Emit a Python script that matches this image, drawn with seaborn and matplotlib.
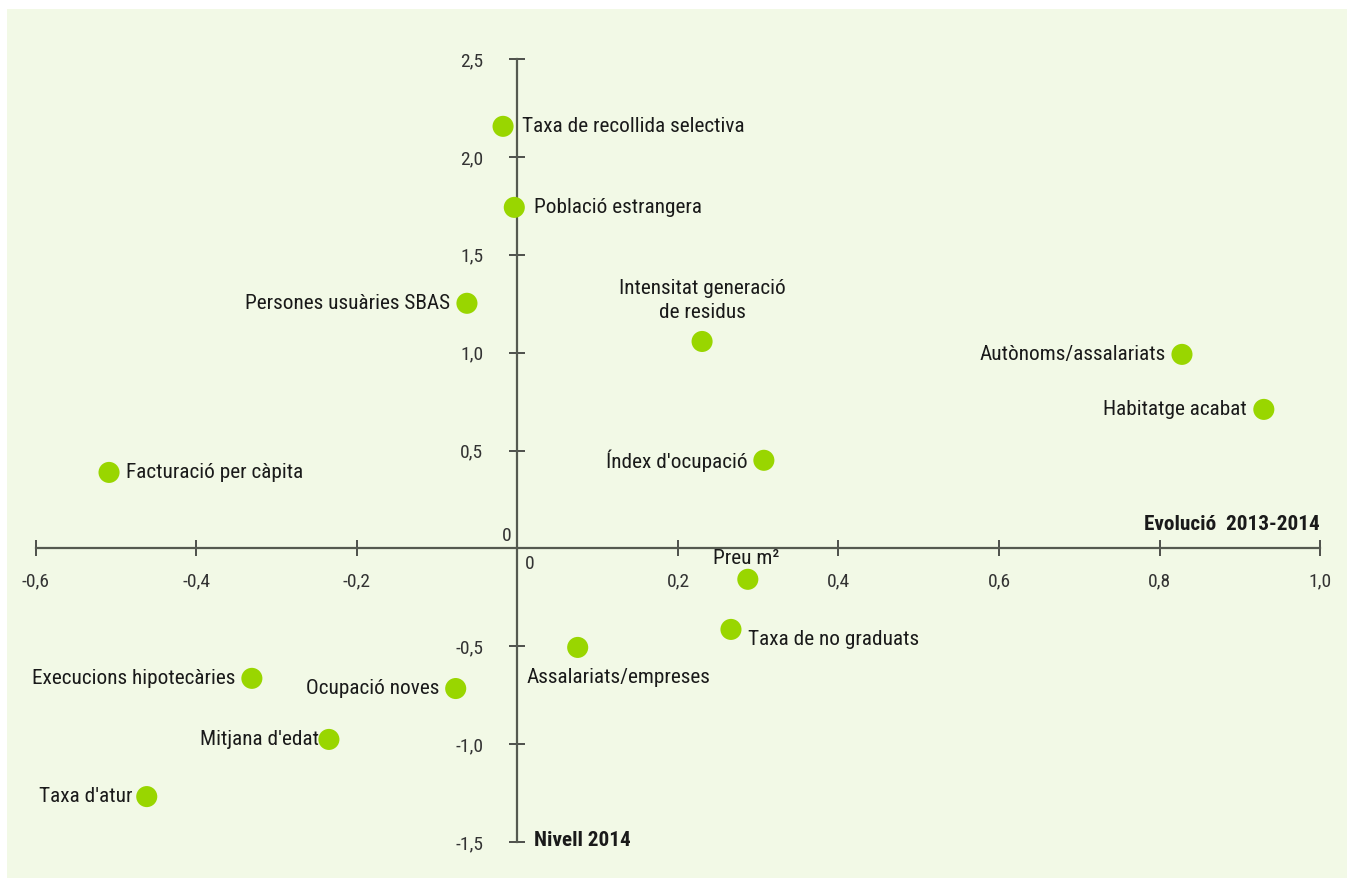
import numpy as np
import pandas as pd
import matplotlib
matplotlib.use('Agg')
import matplotlib.pyplot as plt
import seaborn as sns
from matplotlib import font_manager
from matplotlib.patches import Rectangle

# data
labels = ['Taxa de recollida selectiva', 'Població estrangera', 'Persones usuàries SBAS',
          'Intensitat generació\nde residus', 'Autònoms/assalariats', 'Habitatge acabat',
          "Índex d'ocupació", 'Facturació per càpita', 'Preu m²', 'Taxa de no graduats',
          'Assalariats/empreses', 'Execucions hipotecàries', 'Ocupació noves',
          "Mitjana d'edat", "Taxa d'atur"]
evolucio = [-0.018, -0.004, -0.063, 0.230, 0.828, 0.930, 0.307, -0.509, 0.287, 0.266,
            0.075, -0.331, -0.077, -0.235, -0.462]
nivell = [2.156, 1.742, 1.252, 1.057, 0.991, 0.710, 0.450, 0.388, -0.158, -0.414,
          -0.506, -0.664, -0.716, -0.976, -1.268]
x_ticks = [-0.6, -0.4, -0.2, 0.2, 0.4, 0.6, 0.8, 1.0]
y_ticks = [-1.5, -1.0, -0.5, 0.5, 1.0, 1.5, 2.0, 2.5]

# where each label sits relative to its dot (offset in points, ha, va)
placement = {
    'Taxa de recollida selectiva': (14, 0, 'left', 'center'),
    'Població estrangera': (14, 0, 'left', 'center'),
    'Persones usuàries SBAS': (-12, 0, 'right', 'center'),
    'Intensitat generació\nde residus': (0, 14, 'center', 'bottom'),
    'Autònoms/assalariats': (-12, 0, 'right', 'center'),
    'Habitatge acabat': (-12, 0, 'right', 'center'),
    "Índex d'ocupació": (-12, 0, 'right', 'center'),
    'Facturació per càpita': (12, 0, 'left', 'center'),
    'Preu m²': (-1, 8, 'center', 'bottom'),
    'Taxa de no graduats': (12, -7, 'left', 'center'),
    'Assalariats/empreses': (29, -15, 'center', 'top'),
    'Execucions hipotecàries': (-12, 0, 'right', 'center'),
    'Ocupació noves': (-12, 0, 'right', 'center'),
    "Mitjana d'edat": (-7, 0, 'right', 'center'),
    "Taxa d'atur": (-10, 0, 'right', 'center'),
}

df = pd.DataFrame({'label': labels, 'evolucio': evolucio, 'nivell': nivell})

sns.set_theme(style='white')
installed = {f.name for f in font_manager.fontManager.ttflist}
family = [f for f in ['Roboto Condensed', 'Liberation Sans Narrow', 'Liberation Sans']
          if f in installed] + ['DejaVu Sans']
plt.rcParams['font.family'] = family

bg = '#f2f9e6'
axis_col = '#555a50'
dot_col = '#99d600'
txt_col = '#1a1a1a'

fig = plt.figure(figsize=(13.51, 8.81), dpi=100)
fig.patch.set_facecolor('white')
panel = Rectangle((7 / 1351, 1 - 878 / 881), (1347 - 7) / 1351, (878 - 9) / 881,
                  transform=fig.transFigure, facecolor=bg, edgecolor='none', zorder=-10)
fig.add_artist(panel)

ax = fig.add_axes([36 / 1351, 1 - 842 / 881, (1320 - 36) / 1351, (842 - 59) / 881])
ax.set_facecolor('none')
ax.set_zorder(1)

sns.scatterplot(data=df, x='evolucio', y='nivell', ax=ax, s=230, color=dot_col,
                edgecolor='none', zorder=3, legend=False)

for _, r in df.iterrows():
    dx, dy, ha, va = placement[r['label']]
    ax.annotate(r['label'], (r['evolucio'], r['nivell']), xytext=(dx, dy),
                textcoords='offset points', ha=ha, va=va, fontsize=15.3,
                color=txt_col, linespacing=1.35, zorder=4)

ax.set_xlim(-0.6, 1.0)
ax.set_ylim(-1.5, 2.5)
ax.set_xlabel('')
ax.set_ylabel('')
for side in ['top', 'right']:
    ax.spines[side].set_visible(False)
ax.spines['left'].set_position(('data', 0))
ax.spines['bottom'].set_position(('data', 0))
for side in ['left', 'bottom']:
    ax.spines[side].set_color(axis_col)
    ax.spines[side].set_linewidth(1.6)

fmt = lambda v: f'{v:.1f}'.replace('.', ',')
ax.set_xticks(x_ticks)
ax.set_xticklabels([fmt(v) for v in x_ticks])
ax.set_yticks(y_ticks)
ax.set_yticklabels([fmt(v) for v in y_ticks])
ax.tick_params(axis='x', direction='inout', length=11, width=1.1, color='#222222',
               pad=12, labelsize=14, labelcolor='#333333', bottom=True)
ax.tick_params(axis='y', direction='inout', length=11, width=1.1, color='#222222',
               pad=19, labelsize=14, labelcolor='#333333', left=True)

# zero labels for both axes
ax.annotate('0', (0, 0), xytext=(9, -11), textcoords='offset points', ha='center',
            va='center', fontsize=14, color='#333333')
ax.annotate('0', (0, 0), xytext=(-8, 9), textcoords='offset points', ha='center',
            va='center', fontsize=14, color='#333333')

# axis titles
ax.annotate('Evolució  2013-2014', (1.0, 0), xytext=(0, 17), textcoords='offset points',
            ha='right', va='center', fontsize=15.3, fontweight='bold', color=txt_col)
ax.annotate('Nivell 2014', (0, -1.5), xytext=(12, 1), textcoords='offset points',
            ha='left', va='center', fontsize=15.3, fontweight='bold', color=txt_col)

plt.savefig('out.png', dpi=100, facecolor='white')
